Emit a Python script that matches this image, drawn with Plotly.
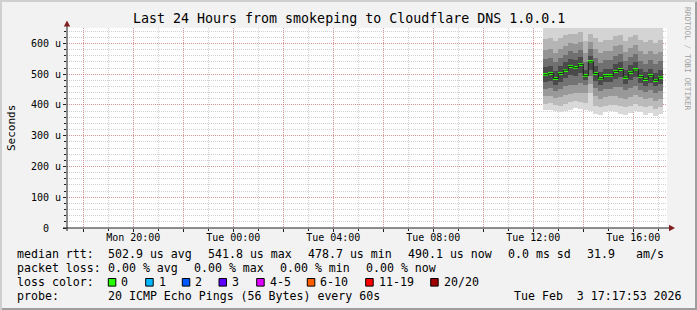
import plotly.graph_objects as go
import pandas as pd

# ---------------- data ----------------
title = "Last 24 Hours from smokeping to Cloudflare DNS 1.0.0.1"
x_range = ["2026-02-02 17:20:53", "2026-02-03 17:20:53"]
first_step = "2026-02-03 12:24:00"
step_minutes = 12

median = [498, 502, 486, 502, 513, 525, 521, 532, 495, 540, 502, 485,
          495, 495, 509, 515, 490, 506, 514, 492, 483, 495, 480, 490]

# smoke band edges (microseconds), outermost low -> outermost high
lo0 = [382, 383, 379, 376, 381, 383, 390, 387, 382, 379, 370, 368, 376, 379, 376, 370, 368, 373, 379, 376, 368, 373, 363, 371]
lo1 = [402, 405, 400, 398, 404, 408, 412, 410, 405, 440, 395, 392, 398, 400, 400, 395, 392, 396, 402, 398, 392, 396, 388, 394]
lo2 = [428, 430, 424, 425, 432, 436, 440, 438, 440, 468, 428, 420, 426, 428, 430, 424, 420, 425, 432, 426, 418, 424, 414, 420]
lo3 = [452, 455, 446, 452, 460, 466, 466, 470, 465, 495, 455, 445, 452, 452, 458, 458, 448, 455, 462, 450, 442, 450, 440, 446]
lo4 = [474, 478, 466, 476, 488, 496, 494, 504, 482, 515, 478, 464, 474, 474, 484, 490, 468, 482, 490, 470, 462, 472, 460, 468]
hi4 = [522, 526, 510, 526, 538, 550, 546, 556, 515, 560, 526, 508, 518, 518, 534, 540, 514, 530, 538, 516, 506, 518, 504, 514]
hi3 = [548, 552, 538, 552, 562, 574, 570, 580, 540, 582, 552, 536, 545, 545, 560, 565, 542, 556, 564, 544, 534, 546, 532, 542]
hi2 = [578, 582, 570, 582, 592, 602, 598, 606, 570, 604, 582, 568, 576, 576, 590, 594, 572, 586, 594, 574, 566, 576, 564, 572]
hi1 = [614, 618, 608, 618, 626, 632, 630, 636, 608, 630, 618, 606, 612, 612, 624, 628, 608, 620, 626, 610, 604, 612, 602, 610]
hi0 = [672, 676, 668, 672, 680, 686, 684, 690, 666, 690, 676, 664, 670, 670, 682, 686, 666, 678, 684, 668, 662, 670, 660, 668]
smoke_edges = [lo0, lo1, lo2, lo3, lo4, hi4, hi3, hi2, hi1, hi0]
smoke_colors = ["#d9d9d9", "#bababa", "#999999", "#737373", "#4a4a4a",
                "#707070", "#949494", "#b5b5b5", "#d4d4d4"]

y_tick_vals = [0, 100, 200, 300, 400, 500, 600]
y_tick_text = ["0\u00a0\u00a0", "100 u", "200 u", "300 u", "400 u", "500 u", "600 u"]
x_tick_vals = ["2026-02-02 18:00", "2026-02-02 20:00", "2026-02-02 22:00", "2026-02-03 00:00",
               "2026-02-03 02:00", "2026-02-03 04:00", "2026-02-03 06:00", "2026-02-03 08:00",
               "2026-02-03 10:00", "2026-02-03 12:00", "2026-02-03 14:00", "2026-02-03 16:00"]
x_tick_text = ["", "Mon 20:00", "", "Tue 00:00", "", "Tue 04:00", "", "Tue 08:00",
               "", "Tue 12:00", "", "Tue 16:00"]

rtt_stats = ["502.9 us avg", "541.8 us max", "478.7 us min", "490.1 us now", "0.0 ms sd", "31.9", "am/s"]
loss_stats = ["0.00 % avg", "0.00 % max", "0.00 % min", "0.00 % now"]
loss_labels = ["0", "1", "2", "3", "4-5", "6-10", "11-19", "20/20"]
loss_colors = ["#26ff00", "#00b8ff", "#0059ff", "#5e00ff", "#dd00ff", "#ff5e00", "#ff0000", "#a10000"]
probe_text = "20 ICMP Echo Pings (56 Bytes) every 60s"
stamp_text = "Tue Feb  3 17:17:53 2026"

# ---------------- geometry ----------------
W, H = 697, 310
L, T, PW, PH = 67, 28, 600, 200
FONT = "DejaVu Sans Mono"


def px(x):
    return (x - L) / PW


def py(y):
    return (T + PH - y) / PH


steps = pd.date_range(first_step, periods=len(median), freq=f"{step_minutes}min")
width_ms = step_minutes * 60 * 1000
centers = steps + pd.Timedelta(minutes=step_minutes / 2)
line_x = list(steps) + [steps[-1] + pd.Timedelta(minutes=step_minutes)]
line_y = median + [median[-1]]

fig = go.Figure()
for i, c in enumerate(smoke_colors):
    lo = smoke_edges[i]
    hi = smoke_edges[i + 1]
    fig.add_trace(go.Bar(x=centers, y=[h - l for h, l in zip(hi, lo)], base=lo,
                         width=width_ms, marker=dict(color=c, line=dict(width=0)),
                         hoverinfo="skip"))
fig.add_trace(go.Scatter(x=line_x, y=line_y, mode="lines", line=dict(color="#202020", width=1, shape="hv"),
                         hoverinfo="skip"))
fig.add_trace(go.Bar(x=centers, y=[9.8] * len(median), base=[m - 4.9 for m in median],
                     width=width_ms, marker=dict(color=loss_colors[0], line=dict(width=0)),
                     hoverinfo="skip"))

grid_minor = "rgba(150,150,150,0.45)"
grid_major = "rgba(222,79,79,0.45)"

fig.update_layout(
    width=W, height=H, margin=dict(l=L, r=W - L - PW, t=T, b=H - T - PH),
    paper_bgcolor="#f2f2f2", plot_bgcolor="#ffffff",
    showlegend=False, barmode="overlay", bargap=0, hovermode=False,
    font=dict(family=FONT, color="#000000"),
    xaxis=dict(type="date", range=x_range, tickmode="array", tickvals=x_tick_vals, ticktext=x_tick_text,
               showgrid=True, gridcolor=grid_major, griddash="1px,1px", gridwidth=1,
               ticks="outside", ticklen=3, tickcolor="#1f1f1f", tickfont=dict(size=10, family=FONT),
               ticklabelstandoff=-3,
               showline=False, zeroline=False,
               minor=dict(tickmode="linear", tick0="2026-02-02 00:00", dtick=3600000, showgrid=True,
                          gridcolor=grid_minor, griddash="1px,1px", gridwidth=1,
                          ticks="outside", ticklen=2, tickcolor="#1f1f1f")),
    yaxis=dict(range=[0, 650], tickmode="array", tickvals=y_tick_vals, ticktext=y_tick_text,
               showgrid=True, gridcolor=grid_major, griddash="1px,1px", gridwidth=1,
               ticks="outside", ticklen=3, tickcolor="#1f1f1f", tickfont=dict(size=10, family=FONT),
               showline=False, zeroline=False,
               minor=dict(tickmode="linear", tick0=0, dtick=20, showgrid=True,
                          gridcolor=grid_minor, griddash="1px,1px", gridwidth=1,
                          ticks="outside", ticklen=2, tickcolor="#1f1f1f")),
)

shapes = []
# frame shading
shapes.append(dict(type="rect", xref="paper", yref="paper", x0=px(0), x1=px(W), y0=py(0), y1=py(2),
                   fillcolor="#cfcfcf", line=dict(width=0), layer="below"))
shapes.append(dict(type="rect", xref="paper", yref="paper", x0=px(0), x1=px(2), y0=py(0), y1=py(H),
                   fillcolor="#cfcfcf", line=dict(width=0), layer="below"))
shapes.append(dict(type="rect", xref="paper", yref="paper", x0=px(2), x1=px(W), y0=py(H - 2), y1=py(H),
                   fillcolor="#9e9e9e", line=dict(width=0), layer="below"))
shapes.append(dict(type="rect", xref="paper", yref="paper", x0=px(W - 2), x1=px(W), y0=py(2), y1=py(H),
                   fillcolor="#9e9e9e", line=dict(width=0), layer="below"))
# axes
shapes.append(dict(type="line", xref="paper", yref="paper", x0=px(67), x1=px(67), y0=py(231), y1=py(25),
                   line=dict(color="#1f1f1f", width=1)))
shapes.append(dict(type="line", xref="paper", yref="paper", x0=px(63), x1=px(669), y0=py(228), y1=py(228),
                   line=dict(color="#1f1f1f", width=1)))
# arrows
shapes.append(dict(type="path", xref="paper", yref="paper",
                   path=f"M {px(67)} {py(20.5)} L {px(63.8)} {py(26.5)} L {px(70.2)} {py(26.5)} Z",
                   fillcolor="#801f1f", line=dict(width=0)))
shapes.append(dict(type="path", xref="paper", yref="paper",
                   path=f"M {px(675)} {py(228)} L {px(669)} {py(224.8)} L {px(669)} {py(231.2)} Z",
                   fillcolor="#801f1f", line=dict(width=0)))

annotations = []


def text(x, y, s, size=11.6, anchor="left", color="#000000", angle=0):
    annotations.append(dict(x=px(x), y=py(y), xref="paper", yref="paper", text=s, showarrow=False,
                            xanchor=anchor, yanchor="middle", textangle=angle,
                            font=dict(family=FONT, size=size, color=color), borderpad=0))


text(348.5, 18.5, title, size=13.3, anchor="center")
text(11, 128, "Seconds", size=11, anchor="center", angle=-90)
text(688, 59, "RRDTOOL / TOBI OETIKER", size=7.8, anchor="center", color="#a0a0a0", angle=90)

# legend rows
row_y = [254.3, 268.3, 282.3, 296.3]
text(16, row_y[0], "median rtt:")
for s, x in zip(rtt_stats, [107.3, 207.3, 307.3, 406.7, 506.7, 585.7, 635]):
    text(x, row_y[0], s)
text(16, row_y[1], "packet loss:")
for s, x in zip(loss_stats, [107.3, 193.3, 279.3, 365]):
    text(x, row_y[1], s)
text(16, row_y[2], "loss color:")
box_x = [108.3, 145.7, 182.3, 219, 256.7, 307.3, 365.7, 430.7]
for s, c, x in zip(loss_labels, loss_colors, box_x):
    shapes.append(dict(type="rect", xref="paper", yref="paper", x0=px(x), x1=px(x + 7.5),
                       y0=py(row_y[2] + 3.8), y1=py(row_y[2] - 3.8), fillcolor=c,
                       line=dict(color="#000000", width=1)))
    text(x + 12, row_y[2], s)
text(16, row_y[3], "probe:")
text(107.3, row_y[3], probe_text)
text(513.3, row_y[3], stamp_text)

fig.update_layout(shapes=shapes, annotations=annotations)
fig.write_html("out.html")
